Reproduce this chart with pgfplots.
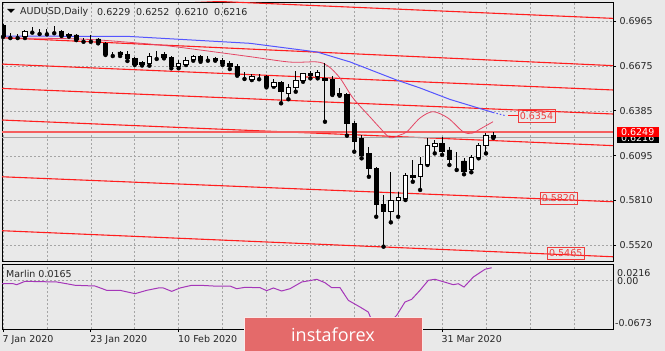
\documentclass[border=0pt]{standalone}
\usepackage{pgfplots}
\pgfplotsset{compat=1.18}
\usepackage{pgfplotstable}
\usepackage{fontspec}
\setmainfont{DejaVu Sans}
\newfontfamily\logofont{Open Sans}
\newcommand\mt{\fontsize{9.5bp}{11bp}\selectfont}
\definecolor{bg}{RGB}{233,233,233}
\definecolor{chred}{RGB}{255,30,30}
\definecolor{hline}{RGB}{245,95,95}
\definecolor{maPink}{RGB}{228,70,100}
\definecolor{maBlue}{RGB}{85,85,255}
\definecolor{marlin}{RGB}{165,55,185}
\definecolor{gridc}{RGB}{165,165,165}
\definecolor{logo}{RGB}{228,106,106}
\definecolor{lblred}{RGB}{240,60,60}

\pgfplotstableread{
i O H L C
0 0.6939 0.6946 0.6862 0.6868
1 0.6868 0.6888 0.6855 0.6868
2 0.6868 0.6881 0.6855 0.6868
3 0.6864 0.6907 0.6855 0.6896
4 0.6902 0.6924 0.6890 0.6902
5 0.6896 0.6913 0.6881 0.6896
6 0.6896 0.6913 0.6879 0.6896
7 0.6900 0.6933 0.6886 0.6900
8 0.6900 0.6907 0.6868 0.6875
9 0.6878 0.6886 0.6864 0.6871
10 0.6875 0.6879 0.6842 0.6849
11 0.6842 0.6853 0.6831 0.6842
12 0.6842 0.6875 0.6831 0.6842
13 0.6849 0.6853 0.6821 0.6825
14 0.6821 0.6828 0.6746 0.6752
15 0.6760 0.6767 0.6739 0.6760
16 0.6765 0.6771 0.6739 0.6748
17 0.6750 0.6771 0.6707 0.6724
18 0.6724 0.6731 0.6681 0.6686
19 0.6699 0.6707 0.6678 0.6686
20 0.6692 0.6757 0.6677 0.6739
21 0.6746 0.6773 0.6720 0.6746
22 0.6750 0.6767 0.6724 0.6728
23 0.6731 0.6741 0.6660 0.6670
24 0.6670 0.6713 0.6660 0.6692
25 0.6688 0.6735 0.6681 0.6713
26 0.6718 0.6746 0.6709 0.6735
27 0.6735 0.6746 0.6702 0.6713
28 0.6718 0.6739 0.6709 0.6718
29 0.6724 0.6735 0.6709 0.6713
30 0.6713 0.6724 0.6681 0.6692
31 0.6692 0.6707 0.6655 0.6670
32 0.6670 0.6688 0.6612 0.6617
33 0.6621 0.6638 0.6591 0.6621
34 0.6589 0.6623 0.6584 0.6606
35 0.6610 0.6623 0.6589 0.6610
36 0.6606 0.6617 0.6537 0.6541
37 0.6546 0.6589 0.6541 0.6571
38 0.6567 0.6580 0.6434 0.6509
39 0.6498 0.6559 0.6460 0.6537
40 0.6537 0.6644 0.6509 0.6580
41 0.6580 0.6631 0.6573 0.6628
42 0.6628 0.6642 0.6595 0.6615
43 0.6606 0.6649 0.6595 0.6634
44 0.6595 0.6691 0.6315 0.6584
45 0.6589 0.6610 0.6488 0.6492
46 0.6498 0.6531 0.6483 0.6488
47 0.6494 0.6498 0.6225 0.6305
48 0.6305 0.6322 0.6122 0.6186
49 0.6208 0.6230 0.6079 0.6101
50 0.6111 0.6150 0.5960 0.6015
51 0.6015 0.6025 0.5702 0.5782
52 0.5782 0.5842 0.5509 0.5735
53 0.5735 0.5989 0.5666 0.5810
54 0.5810 0.5864 0.5702 0.5825
55 0.5821 0.5982 0.5810 0.5971
56 0.5967 0.6068 0.5928 0.5957
57 0.5960 0.6089 0.5875 0.6040
58 0.6040 0.6208 0.6036 0.6160
59 0.6154 0.6197 0.6111 0.6176
60 0.6176 0.6219 0.6101 0.6126
61 0.6133 0.6154 0.6036 0.6073
62 0.6073 0.6118 0.6004 0.6073
63 0.6062 0.6079 0.5976 0.5997
64 0.6010 0.6101 0.5989 0.6083
65 0.6083 0.6176 0.6079 0.6165
66 0.6165 0.6241 0.6111 0.6225
67 0.6229 0.6252 0.6210 0.6216
}\ohlc

\begin{document}
\begin{tikzpicture}
\path[use as bounding box, fill=bg] (0,0) rectangle (665bp,351bp);

% ---------------- main panel: lines, grid, wicks
\begin{axis}[
  at={(2bp,349bp)}, anchor=north west, scale only axis,
  width=611bp, height=259bp,
  xmin=-0.14, xmax=83.36, ymin=0.54166, ymax=0.70876,
  axis line style={black, line width=0.8bp},
  xtick={0,6,...,78}, xticklabels={}, xtick style={draw=none},
  ytick={0.5520,0.5810,0.6095,0.6385,0.6675,0.6965},
  yticklabels={0.5520,0.5810,0.6095,0.6385,0.6675,0.6965},
  scaled y ticks=false,
  ytick pos=right, yticklabel pos=right,
  tick align=outside, major tick length=3bp,
  ytick style={black, line width=0.8bp},
  tick label style={font=\mt, text=black!85},
  grid=major, major grid style={gridc, dash pattern=on 2bp off 2bp, line width=0.5bp},
  clip mode=individual,
]
% channel lines
\addplot[chred, line width=1.1bp] coordinates {(-0.14,0.7151) (83.36,0.6982)};
\addplot[chred, line width=1.1bp] coordinates {(-0.14,0.6857) (83.36,0.6677)};
\addplot[chred, line width=1.1bp] coordinates {(-0.14,0.6687) (83.36,0.6520)};
\addplot[chred, line width=1.1bp] coordinates {(-0.14,0.6530) (83.36,0.6365)};
\addplot[chred, line width=1.1bp] coordinates {(-0.14,0.6326) (83.36,0.6161)};
\addplot[chred, line width=1.1bp] coordinates {(-0.14,0.5960) (83.36,0.5799)};
\addplot[chred, line width=1.1bp] coordinates {(-0.14,0.5612) (83.36,0.5444)};
% horizontal level and bid line
\addplot[hline, line width=2bp] coordinates {(-0.14,0.6249) (83.36,0.6249)};
\addplot[gray!70, line width=0.7bp] coordinates {(-0.14,0.6216) (83.36,0.6216)};
% blue MA
\addplot[maBlue, line width=1bp] coordinates {
(-0.14,0.6868) (17.35,0.6865) (33.75,0.6821) (42.91,0.6765) (47.42,0.6701)
(53.80,0.6584) (56.98,0.6533) (61.08,0.6459) (66.96,0.6375)};
\addplot[maBlue, line width=1bp, dash pattern=on 1.5bp off 2bp] coordinates {(66.96,0.6375) (68.6,0.6355)};
% pink MA
\addplot[maPink, line width=0.8bp, smooth] coordinates {
(-0.14,0.6855) (7.79,0.6852) (13.25,0.6842) (21.45,0.6810) (26.92,0.6778)
(33.75,0.6735) (39.22,0.6700) (42.91,0.6701) (44.41,0.6675) (46.05,0.6597)
(47.83,0.6468) (50.15,0.6346) (51.52,0.6275) (52.88,0.6212) (54.25,0.6230)
(55.21,0.6251) (56.98,0.6339) (58.76,0.6380) (60.81,0.6339) (62.86,0.6251)
(64.09,0.6241) (65.46,0.6275) (66.96,0.6315)};
% short label leaders
\addplot[chred, line width=1bp] coordinates {(69.0,0.6354) (70.4,0.6354)};
\addplot[chred, line width=1bp] coordinates {(72.2,0.5822) (72.6,0.5822)};
% wicks
\addplot[black, only marks, mark=none,
  error bars/.cd, y dir=plus, y explicit, error mark=none,
  error bar style={black, solid, line width=1bp}]
  table[x=i, y=L, y error plus expr=\thisrow{H}-\thisrow{L}] {\ohlc};
% price labels inside the chart
\node[draw=lblred, text=lblred, font=\mt, inner sep=0pt, minimum width=37bp, minimum height=13bp, line width=0.8bp] at (axis cs:72.9,0.6354) {0.6354};
\node[draw=lblred, text=lblred, font=\mt, inner sep=0pt, minimum width=37bp, minimum height=12bp, line width=0.8bp] at (axis cs:75.9,0.5820) {0.5820};
\node[draw=lblred, text=lblred, font=\mt, inner sep=0pt, minimum width=37bp, minimum height=12bp, line width=0.8bp] at (axis cs:76.9,0.5465) {0.5465};
% axis price labels
\node[fill=black, text=white, font=\mt, inner sep=0pt, minimum width=41.6bp, minimum height=10bp, anchor=west, xshift=3.7bp, yshift=-0.5bp] at (axis cs:83.36,0.6216) {0.6216};
\node[fill=red, text=white, font=\mt, inner sep=0pt, minimum width=41.6bp, minimum height=10bp, anchor=west, xshift=3.7bp] at (axis cs:83.36,0.6249) {0.6249};
\end{axis}

% ---------------- main panel: candle bodies
\begin{axis}[
  at={(2bp,349bp)}, anchor=north west, scale only axis,
  width=611bp, height=259bp,
  xmin=-0.14, xmax=83.36, ymin=0.54166, ymax=0.70876,
  hide axis, ybar stacked, bar width=0.6,
]
\addplot[draw=none, fill=none] table[x=i, y expr={min(\thisrow{O},\thisrow{C})}] {\ohlc};
\addplot[fill=white, draw=black, line width=0.8bp] table[x=i, y expr={max(\thisrow{C}-\thisrow{O},0)}] {\ohlc};
\addplot[fill=black, draw=black, line width=0.8bp] table[x=i, y expr={max(\thisrow{O}-\thisrow{C},0)}] {\ohlc};
\end{axis}

% ---------------- Marlin sub-panel
\begin{axis}[
  at={(2bp,87bp)}, anchor=north west, scale only axis,
  width=611bp, height=65bp,
  xmin=-0.14, xmax=83.36, ymin=-0.0673, ymax=0.0216,
  axis line style={black, line width=0.8bp},
  xtick={0,6,...,78}, xticklabels={}, major tick length=0pt,
  xtick pos=bottom,
  extra x ticks={0,12,24,60},
  extra x tick labels={7 Jan 2020,23 Jan 2020,10 Feb 2020,31 Mar 2020},
  extra x tick style={grid=none, major tick length=3bp, tick align=outside,
     tick style={black, line width=0.8bp},
     xticklabel style={anchor=north west, xshift=-4bp}},
  ytick={0}, yticklabels={}, ytick style={draw=none},
  scaled y ticks=false,
  tick label style={font=\mt, text=black!85},
  grid=major, major grid style={gridc, dash pattern=on 2bp off 2bp, line width=0.5bp},
]
\addplot[marlin, line width=1bp] coordinates {
(-0.14,-0.0054) (1.41,-0.0054) (1.87,-0.0067) (3.01,-0.0021) (7.34,-0.0030)
(8.70,-0.0054) (9.84,-0.0075) (12.57,-0.0085) (14.17,-0.0144) (15.99,-0.0144)
(18.04,-0.0190) (19.64,-0.0144) (21.22,-0.0112) (21.91,-0.0112) (23.05,-0.0158)
(24.19,-0.0112) (25.79,-0.0075) (26.92,-0.0075) (28.74,-0.0085) (31.02,-0.0085)
(31.93,-0.0122) (33.07,-0.0103) (35.12,-0.0108) (36.03,-0.0149) (36.94,-0.0112)
(38.08,-0.0153) (39.22,-0.0122) (40.82,-0.0030) (42.18,-0.0007) (42.87,0.0007)
(44.00,-0.0040) (44.92,-0.0108) (46.05,-0.0108) (47.19,-0.0281) (48.78,-0.0372)
(49.92,-0.0441) (50.38,-0.0554) (50.97,-0.0646) (51.65,-0.0673) (52.34,-0.0632)
(52.88,-0.0577) (53.80,-0.0486) (54.93,-0.0304) (55.85,-0.0267) (56.98,-0.0144)
(58.12,-0.0007) (59.03,0.0007) (60.63,-0.0040) (61.53,-0.0067) (62.22,-0.0054)
(63.00,-0.0099) (64.27,0.0038) (65.87,0.0144) (66.78,0.0165)};
\end{axis}

% ---------------- texts
\fill[black] (7bp,342bp) -- (15bp,342bp) -- (11bp,338bp) -- cycle;
\node[anchor=west, inner sep=0pt, font=\mt, text=black!85] at (20bp,339bp) {AUDUSD,Daily};
\node[anchor=west, inner sep=0pt, font=\mt, text=black!85] at (97bp,339bp) {0.6229};
\node[anchor=west, inner sep=0pt, font=\mt, text=black!85] at (136bp,339bp) {0.6252};
\node[anchor=west, inner sep=0pt, font=\mt, text=black!85] at (175bp,339bp) {0.6210};
\node[anchor=west, inner sep=0pt, font=\mt, text=black!85] at (214bp,339bp) {0.6216};
\node[anchor=west, inner sep=0pt, font=\mt, text=black!85] at (6bp,77bp) {Marlin 0.0165};
\node[anchor=west, inner sep=0pt, font=\mt, text=black!85] at (617bp,78bp) {0.0216};
\node[anchor=west, inner sep=0pt, font=\mt, text=black!85] at (617bp,70bp) {0.00};
\node[anchor=west, inner sep=0pt, font=\mt, text=black!85] at (615bp,28bp) {-0.0673};
% logo
\fill[logo, draw=white!85!logo, line width=1bp] (244bp,-2bp) rectangle (422bp,33bp);
\node[text=white, font={\logofont\fontsize{18bp}{20bp}\selectfont}] at (333bp,16bp) {instaforex};
\end{tikzpicture}
\end{document}
